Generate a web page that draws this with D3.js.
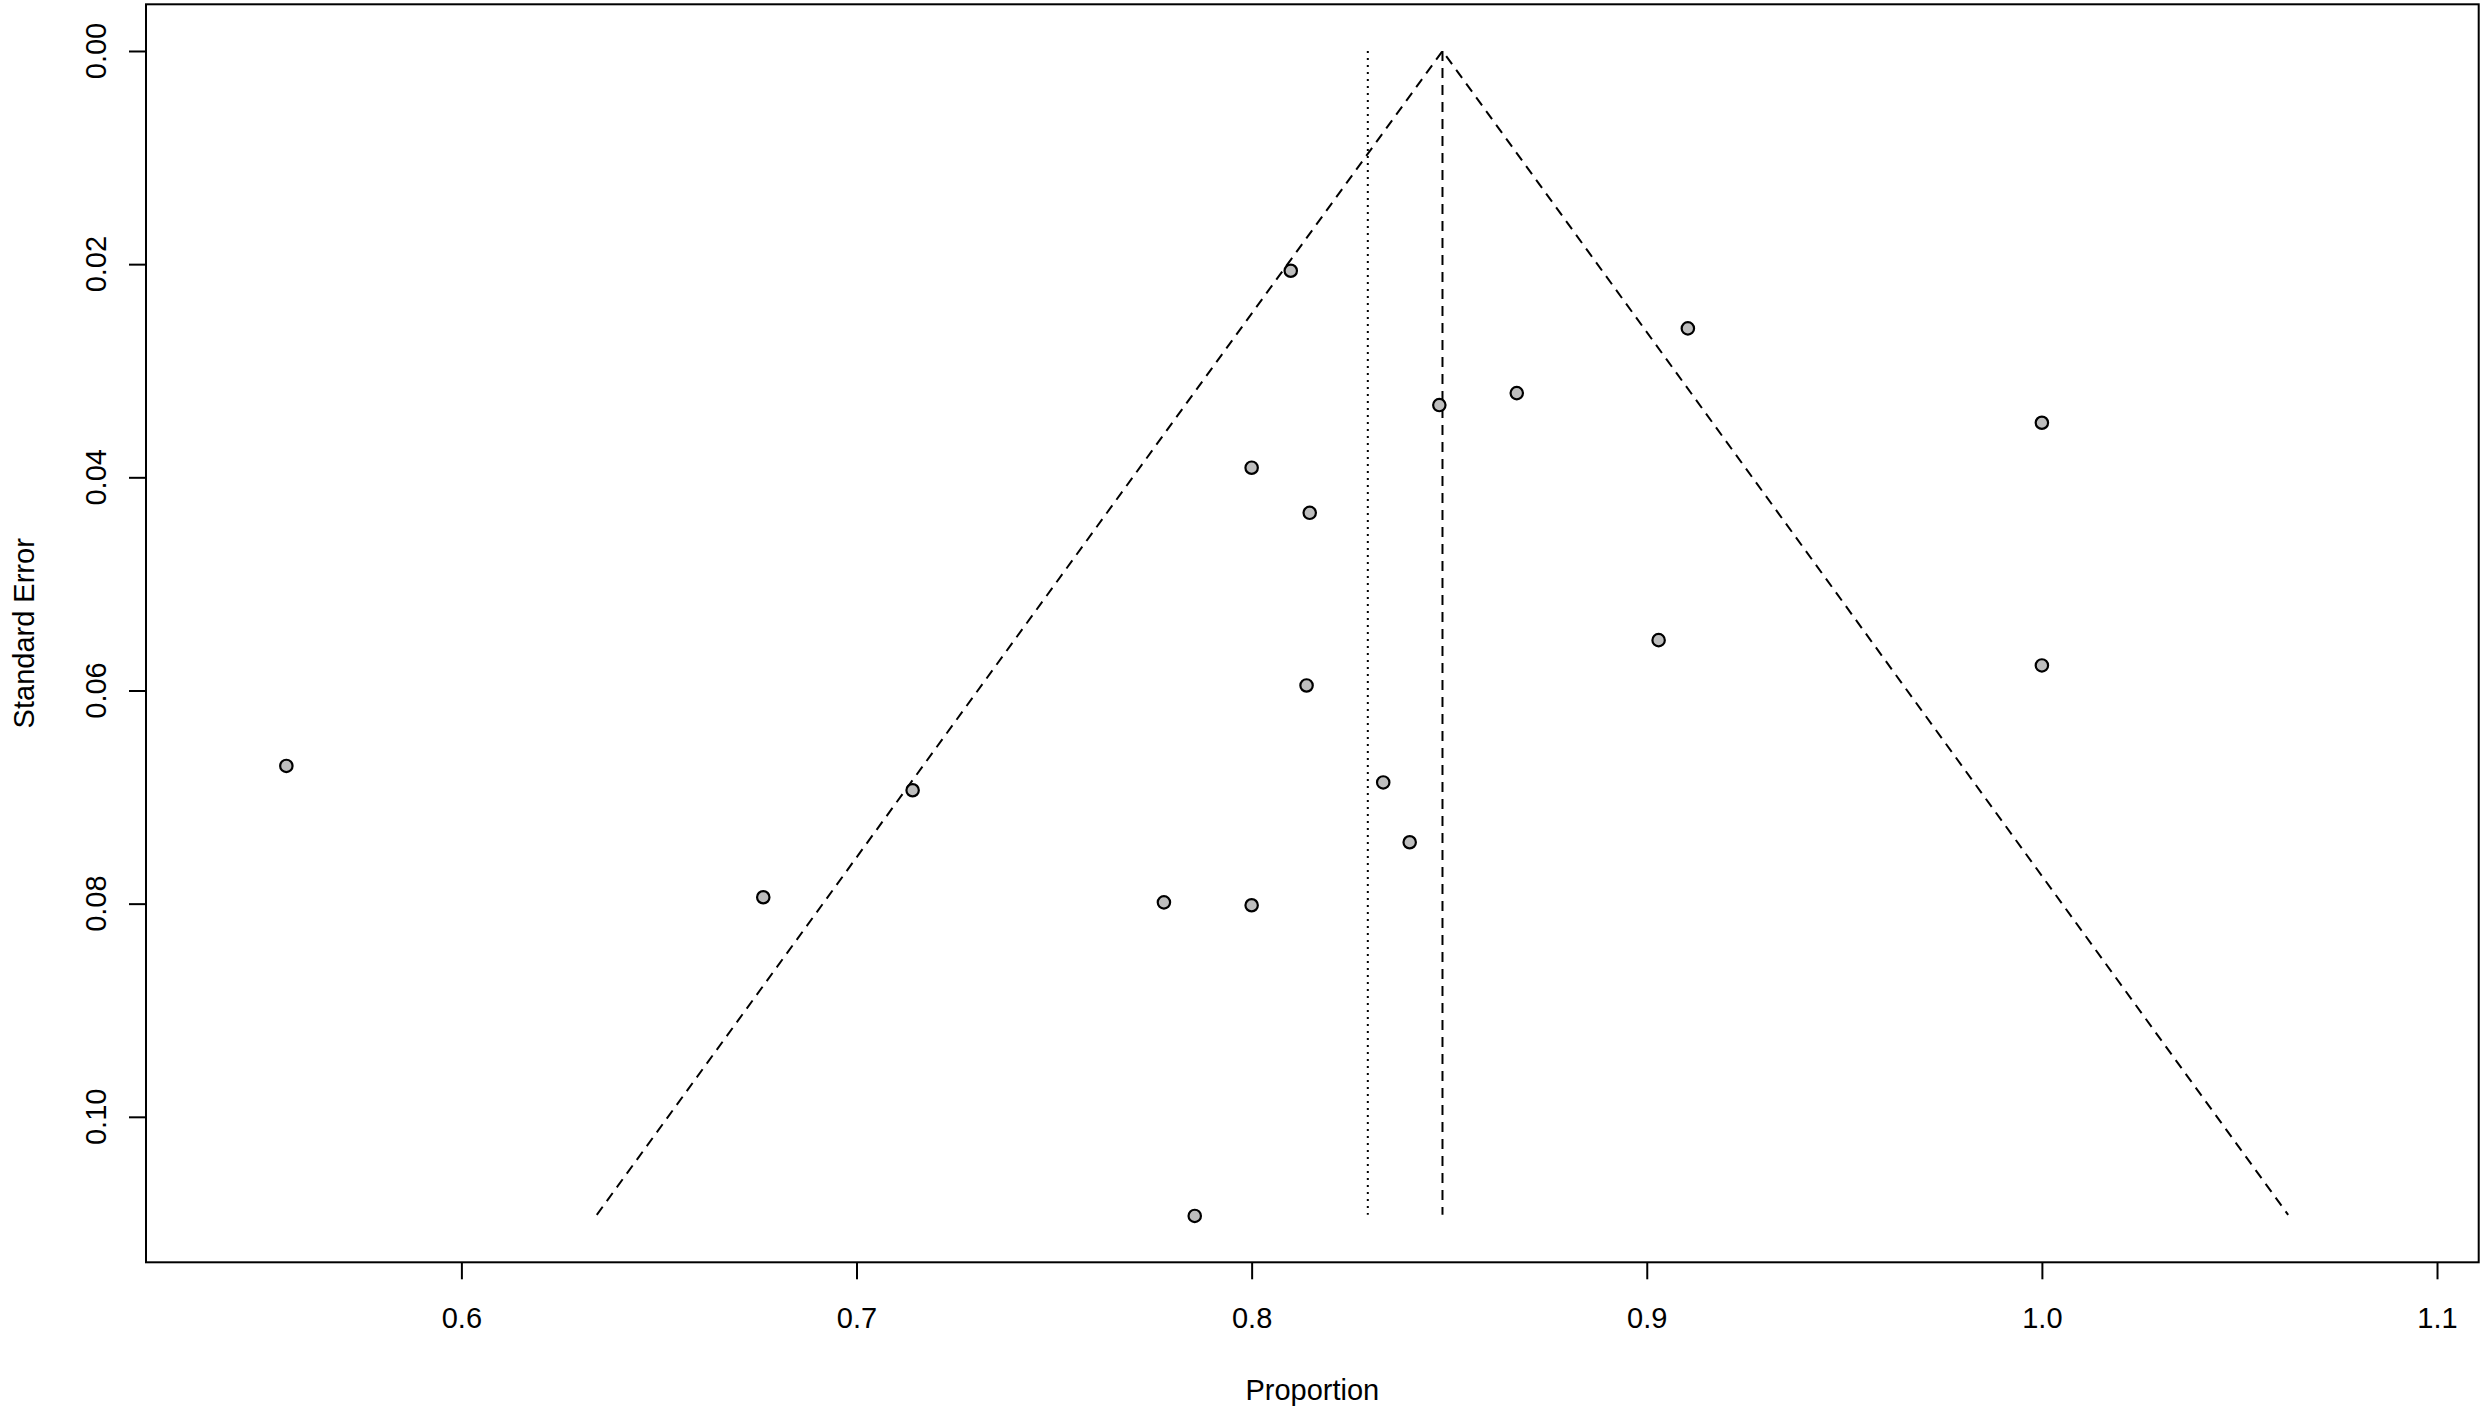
<!DOCTYPE html>
<html>
<head>
<meta charset="utf-8">
<script src="https://cdn.jsdelivr.net/npm/d3@7"></script>
<style>
  body { margin: 0; background: #fff; }
  text { font-family: Arial, "Liberation Sans", sans-serif; fill: #000; }
</style>
</head>
<body>
<svg id="chart"></svg>
<script>
// study proportions and their standard errors
const proportions = [0.5557, 0.6764, 0.7142, 0.7778, 0.7856, 0.8000, 0.8000, 0.8099, 0.8147,
                     0.8139, 0.8333, 0.8400, 0.8475, 0.8671, 0.9030, 0.9104, 1.0000, 1.0000];
const stdErrors = [0.06708, 0.0794, 0.06936, 0.07988, 0.1093, 0.0391, 0.08015, 0.02062, 0.04333,
                   0.05953, 0.06863, 0.07424, 0.03322, 0.0321, 0.05528, 0.02603, 0.03488, 0.05765];

const pooledEstimate = 0.8483,   // dashed line / funnel apex
      otherEstimate = 0.8294,    // dotted line
      funnelSeMax = 0.1092,
      zCrit = 1.96;

const xTicks = [0.6, 0.7, 0.8, 0.9, 1.0, 1.1];
const yTicks = [0.00, 0.02, 0.04, 0.06, 0.08, 0.10];

const width = 2480,
    height = 1412,
    fontSize = 29,
    tickLen = 17;

const svg = d3.select('#chart')
    .attr('width', width)
    .attr('height', height);

svg.append('rect')
    .attr('width', width)
    .attr('height', height)
    .attr('fill', '#fff');

const x = d3.scaleLinear()
    .domain([0.52018, 1.11055])
    .range([146, 2478.7]);

const y = d3.scaleLinear()
    .domain([-0.00438, 0.11365])
    .range([4.3, 1262.3]);

// x axis
const xAxis = svg.append('g')
    .attr('transform', 'translate(0,' + y.range()[1] + ')')
    .call(d3.axisBottom(x)
        .tickValues(xTicks)
        .tickFormat(d3.format('.1f'))
        .tickSize(tickLen)
        .tickPadding(28));
xAxis.select('.domain').remove();
xAxis.selectAll('line').attr('stroke', '#000').attr('stroke-width', 2);
xAxis.selectAll('text')
    .style('font-family', 'Arial, "Liberation Sans", sans-serif')
    .attr('font-size', fontSize);

// y axis (ticks only, labels rotated like base R)
const yAxis = svg.append('g')
    .attr('transform', 'translate(' + x.range()[0] + ',0)')
    .call(d3.axisLeft(y)
        .tickValues(yTicks)
        .tickSize(tickLen)
        .tickFormat(''));
yAxis.select('.domain').remove();
yAxis.selectAll('line').attr('stroke', '#000').attr('stroke-width', 2);

svg.append('g')
    .selectAll('text')
    .data(yTicks)
    .join('text')
    .attr('transform', d => 'translate(106,' + y(d) + ') rotate(-90)')
    .attr('text-anchor', 'middle')
    .attr('font-size', fontSize)
    .text(d => d3.format('.2f')(d));

// plot box
svg.append('rect')
    .attr('x', x.range()[0])
    .attr('y', y.range()[0])
    .attr('width', x.range()[1] - x.range()[0])
    .attr('height', y.range()[1] - y.range()[0])
    .attr('fill', 'none')
    .attr('stroke', '#000')
    .attr('stroke-width', 2);

// axis titles
svg.append('text')
    .attr('x', (x.range()[0] + x.range()[1]) / 2)
    .attr('y', 1400)
    .attr('text-anchor', 'middle')
    .attr('font-size', fontSize)
    .text('Proportion');

svg.append('text')
    .attr('transform', 'translate(34,' + (y.range()[0] + y.range()[1]) / 2 + ') rotate(-90)')
    .attr('text-anchor', 'middle')
    .attr('font-size', fontSize)
    .text('Standard Error');

// funnel
const funnel = [
    [pooledEstimate - zCrit * funnelSeMax, funnelSeMax],
    [pooledEstimate, 0],
    [pooledEstimate + zCrit * funnelSeMax, funnelSeMax]
];

svg.append('path')
    .datum(funnel)
    .attr('d', d3.line().x(d => x(d[0])).y(d => y(d[1])))
    .attr('fill', 'none')
    .attr('stroke', '#000')
    .attr('stroke-width', 2)
    .attr('stroke-dasharray', '10,7');

svg.append('line')
    .attr('x1', x(pooledEstimate)).attr('x2', x(pooledEstimate))
    .attr('y1', y(0)).attr('y2', y(funnelSeMax))
    .attr('stroke', '#000')
    .attr('stroke-width', 2)
    .attr('stroke-dasharray', '10,7');

svg.append('line')
    .attr('x1', x(otherEstimate)).attr('x2', x(otherEstimate))
    .attr('y1', y(0)).attr('y2', y(funnelSeMax))
    .attr('stroke', '#000')
    .attr('stroke-width', 2)
    .attr('stroke-dasharray', '2,5');

// study points
svg.append('g')
    .selectAll('circle')
    .data(proportions)
    .join('circle')
    .attr('cx', d => x(d))
    .attr('cy', (d, i) => y(stdErrors[i]))
    .attr('r', 6.2)
    .attr('fill', '#bebebe')
    .attr('stroke', '#000')
    .attr('stroke-width', 2.2);
</script>
</body>
</html>
